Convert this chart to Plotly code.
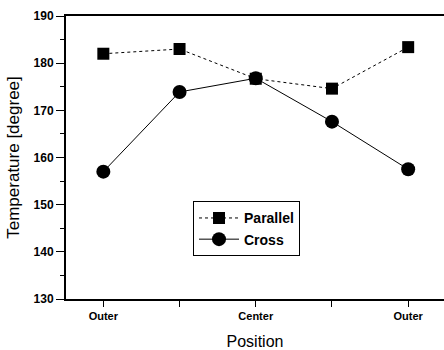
import plotly.graph_objects as go

positions = [0, 1, 2, 3, 4]
tick_labels = ["Outer", "", "Center", "", "Outer"]
parallel = [182, 183, 176.7, 174.6, 183.4]
cross = [157, 173.9, 176.8, 167.6, 157.5]

fig = go.Figure()
fig.add_trace(go.Scatter(
    x=positions, y=parallel, name="Parallel", mode="lines+markers",
    line=dict(color="black", width=1, dash="dot"),
    marker=dict(symbol="square", size=12, color="black"),
))
fig.add_trace(go.Scatter(
    x=positions, y=cross, name="Cross", mode="lines+markers",
    line=dict(color="black", width=1),
    marker=dict(symbol="circle", size=14, color="black"),
))

font = "Liberation Sans, Arial, sans-serif"
fig.update_layout(
    width=444, height=350,
    margin=dict(l=66, r=0, t=16, b=51, autoexpand=False),
    paper_bgcolor="white", plot_bgcolor="white",
    font=dict(family=font, color="black"),
    showlegend=True,
    legend=dict(
        x=0.336, y=0.345, xanchor="left", yanchor="top",
        bordercolor="black", borderwidth=1, bgcolor="white",
        font=dict(size=14, family=font, color="black", weight="bold"),
        itemwidth=40, tracegroupgap=0,
    ),
    xaxis=dict(
        range=[-0.49, 4.47], tickvals=positions, ticktext=tick_labels,
        showline=True, linecolor="black", linewidth=2, mirror=True,
        ticks="outside", ticklen=6, tickcolor="black", tickwidth=1,
        showgrid=False, zeroline=False, automargin=False,
        tickfont=dict(size=11, family=font, color="black", weight="bold"),
        title=dict(text="Position", font=dict(size=16, family=font), standoff=17),
    ),
    yaxis=dict(
        range=[130, 190], tick0=130, dtick=10,
        showline=True, linecolor="black", linewidth=2, mirror=True,
        ticks="outside", ticklen=8, tickcolor="black", tickwidth=1,
        minor=dict(dtick=5, ticks="outside", ticklen=4, tickcolor="black"),
        showgrid=False, zeroline=False, automargin=False,
        tickfont=dict(size=12, family=font, color="black", weight="bold"),
        title=dict(text="Temperature [degree]", font=dict(size=17, family=font), standoff=10),
    ),
)

fig.write_html(
    "out.html",
    config={"displayModeBar": False},
    post_script="document.body.style.margin='0';document.body.style.overflow='hidden';",
)
